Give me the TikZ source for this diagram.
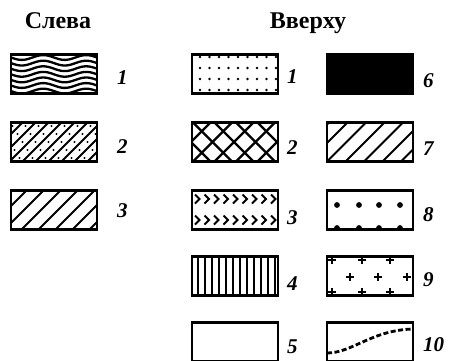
\documentclass[tikz,border=0pt]{standalone}
\usepackage{fontspec}
\setmainfont{Liberation Serif}
\usetikzlibrary{positioning}

\begin{document}
\begin{tikzpicture}[x=1pt,y=-1pt,
  swatch/.style={draw,line width=2.2pt,minimum width=86pt,minimum height=39pt,inner sep=0pt,outer sep=0pt},
  head/.style={font=\fontsize{24}{28}\selectfont\bfseries,anchor=base},
  num/.style={font=\fontsize{21}{24}\selectfont\bfseries\itshape,inner sep=0pt},
  hatch/.style={line width=1.8pt},
  plus/.style={line width=1.9pt}]
\useasboundingbox (0,0) rectangle (454,360);

\node[head] (left) at (58,28) {Слева};
\node[head] (top) at (308,28) {Вверху};

% left column
\node[swatch] (l1) at (54,74) {};
\node[swatch] (l2) at (54,142) {};
\node[swatch] (l3) at (54,210) {};
% top, first column
\node[swatch] (t1) at (235,74) {};
\node[swatch] (t2) at (235,142) {};
\node[swatch] (t3) at (235,210) {};
\node[swatch] (t4) at (235,276) {};
\node[swatch] (t5) at (235,342) {};
% top, second column
\node[swatch,fill=black] (t6) at (370,74) {};
\node[swatch] (t7) at (370,142) {};
\node[swatch] (t8) at (370,210) {};
\node[swatch] (t9) at (370,276) {};
\node[swatch] (t10) at (370,342) {};

% wavy lines
\begin{scope}
\clip (l1.south west) rectangle (l1.north east);
\foreach \k in {0,...,6}
  \draw[line width=2.3pt] plot[domain=11:97,samples=50,smooth] (\x,{57.5+5.6*\k+2.4*sin((\x-11)*8.372)});
\end{scope}
% hatch with dots
\begin{scope}
\clip (l2.south west) rectangle (l2.north east);
\foreach \x in {-30,-17,...,100} {
  \draw[hatch] (\x,162) -- ++(40,-40);
  \foreach \t in {4,12,...,36}
    \fill (\x+6.5+\t,162-\t) circle (1.1);
}
\end{scope}
% plain hatch
\begin{scope}
\clip (l3.south west) rectangle (l3.north east);
\foreach \x in {-30,-13,...,100}
  \draw[hatch] (\x,230) -- ++(40,-40);
\end{scope}

% small dots
\foreach \y in {57,68,79,90}
  \foreach \x in {0,...,8}
    \fill (200+9.5*\x,\y) circle (1.4);
% cross hatch
\begin{scope}
\clip (t2.south west) rectangle (t2.north east);
\foreach \x in {150,171.5,...,300} {
  \draw[line width=2.2pt] (\x,161.5) -- ++(39,-39);
  \draw[line width=2.2pt] (\x,122.5) -- ++(39,39);
}
\end{scope}
% chevrons
\foreach \y in {199,220}
  \foreach \x in {0,...,8}
    \draw[line width=2pt] (195+9.5*\x,\y-4.5) -- ++(4.5,4.5) -- ++(-4.5,4.5);
% vertical lines
\foreach \x in {0,...,11}
  \draw[line width=2pt] (198+7*\x,256.5) -- (198+7*\x,295.5);

% hatch
\begin{scope}
\clip (t7.south west) rectangle (t7.north east);
\foreach \x in {290,308.5,...,420}
  \draw[hatch] (\x,161.5) -- ++(39,-39);
\end{scope}
% big dots
\foreach \x in {337,359,379,400} {
  \fill (\x,205) circle (2.9);
  \fill (\x,228) circle (2.9);
}
% crosses
\foreach \x/\y in {332/260,362/260,390/260,350/277,378/277,407/277,332/292,362/292,390/292}
  \draw[plus] (\x-4,\y) -- (\x+4,\y) (\x,\y-4) -- (\x,\y+4);
% dashed curve
\draw[line width=2.8pt,dash pattern=on 5pt off 2.5pt] (t10.west |- 0,353) .. controls (352,353) and (372,330) .. (t10.east |- 0,329);

% numbers
\node[num,right=20pt of l1,yshift=-4pt] (nl1) {1};
\node[num,right=20pt of l2,yshift=-5pt] (nl2) {2};
\node[num,right=20pt of l3,yshift=-1pt] (nl3) {3};
\node[num,right=9pt of t1,yshift=-3pt] (nt1) {1};
\node[num,right=9pt of t2,yshift=-6pt] (nt2) {2};
\node[num,right=9pt of t3,yshift=-8pt] (nt3) {3};
\node[num,right=9pt of t4,yshift=-8pt] (nt4) {4};
\node[num,right=9pt of t5,yshift=-5pt] (nt5) {5};
\node[num,right=10pt of t6,yshift=-7pt] (nt6) {6};
\node[num,right=10pt of t7,yshift=-7pt] (nt7) {7};
\node[num,right=10pt of t8,yshift=-5pt] (nt8) {8};
\node[num,right=10pt of t9,yshift=-4pt] (nt9) {9};
\node[num,right=10pt of t10,yshift=-3pt] (nt10) {10};
\end{tikzpicture}
\end{document}
